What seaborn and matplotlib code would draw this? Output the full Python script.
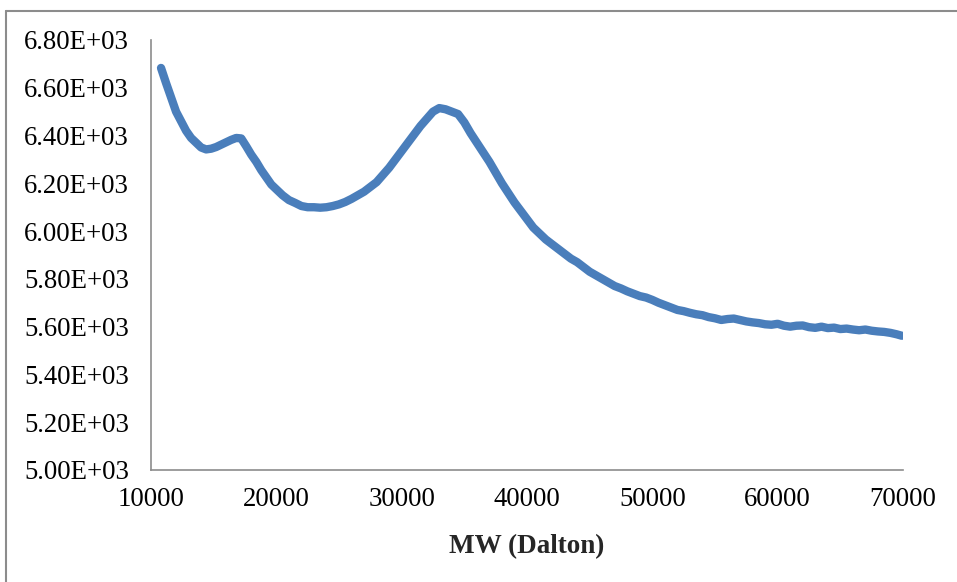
import matplotlib
matplotlib.use("Agg")
import matplotlib.pyplot as plt
from matplotlib.lines import Line2D
import seaborn as sns
import pandas as pd

# Molecular weight (Da) and signal intensity
mw = [10800, 11200, 11600, 12000, 12400, 12800, 13200, 13600, 14000, 14400,
      14800, 15200, 15600, 16000, 16400, 16800, 17200, 17600, 18000, 18400,
      18800, 19200, 19600, 20000, 20500, 21000, 21500, 22000, 22500, 23000,
      23500, 24000, 24500, 25000, 25500, 26000, 26500, 27000, 27500, 28000,
      28500, 29000, 29500, 30000, 30500, 31000, 31500, 32000, 32500, 33000,
      33500, 34000, 34500, 35000, 35500, 36000, 36500, 37000, 37500, 38000,
      38500, 39000, 39500, 40000, 40500, 41000, 41500, 42000, 42500, 43000,
      43500, 44000, 44500, 45000, 45500, 46000, 46500, 47000, 47500, 48000,
      48500, 49000, 49500, 50000, 50500, 51000, 51500, 52000, 52500, 53000,
      53500, 54000, 54500, 55000, 55500, 56000, 56500, 57000, 57500, 58000,
      58500, 59000, 59500, 60000, 60500, 61000, 61500, 62000, 62500, 63000,
      63500, 64000, 64500, 65000, 65500, 66000, 66500, 67000, 67500, 68000,
      68500, 69000, 69500, 69900]
intensity = [6683, 6620, 6560, 6500, 6460, 6420, 6390, 6370, 6350, 6342,
             6345, 6352, 6362, 6372, 6382, 6390, 6388, 6355, 6320, 6290,
             6255, 6225, 6195, 6175, 6150, 6130, 6118, 6105, 6100, 6100,
             6098, 6100, 6105, 6112, 6122, 6135, 6150, 6165, 6185, 6205,
             6235, 6265, 6300, 6335, 6370, 6405, 6440, 6470, 6500, 6515,
             6510, 6500, 6490, 6455, 6410, 6370, 6330, 6290, 6245, 6200,
             6160, 6120, 6085, 6050, 6015, 5990, 5965, 5945, 5925, 5905,
             5885, 5870, 5850, 5830, 5815, 5800, 5785, 5770, 5760, 5748,
             5738, 5728, 5722, 5712, 5700, 5690, 5680, 5670, 5665, 5658,
             5652, 5648, 5640, 5635, 5628, 5632, 5634, 5628, 5622, 5618,
             5615, 5610, 5608, 5612, 5604, 5600, 5604, 5605, 5598, 5595,
             5600, 5594, 5596, 5590, 5592, 5588, 5585, 5588, 5583, 5580,
             5578, 5574, 5568, 5562]

x_ticks = [10000, 20000, 30000, 40000, 50000, 60000, 70000]
y_ticks = [5000, 5200, 5400, 5600, 5800, 6000, 6200, 6400, 6600, 6800]
x_label = "MW (Dalton)"

df = pd.DataFrame({"mw": mw, "intensity": intensity})

sns.set_style("white")
plt.rcParams["font.family"] = ["Liberation Serif", "DejaVu Serif"]

W, H, DPI = 957, 582, 100
fig = plt.figure(figsize=(W / DPI, H / DPI), dpi=DPI)
ax = fig.add_axes([151 / W, 1 - 470 / H, (903 - 151) / W, (470 - 40) / H])

sns.lineplot(data=df, x="mw", y="intensity", ax=ax, color="#4a7ebb",
             linewidth=6, sort=False, estimator=None,
             solid_capstyle="round", solid_joinstyle="round")

ax.set_xlim(10000, 70000)
ax.set_ylim(5000, 6800)
ax.set_xticks(x_ticks)
ax.set_xticklabels([str(v) for v in x_ticks])
ax.set_yticks(y_ticks)
ax.set_yticklabels([f"{v / 1000:.2f}E+03" for v in y_ticks])

for side in ("top", "right"):
    ax.spines[side].set_visible(False)
for side in ("left", "bottom"):
    ax.spines[side].set_color("#8c8c8c")
    ax.spines[side].set_linewidth(1.2)

ax.tick_params(axis="both", direction="out", length=6, width=1.2,
               color="#8c8c8c", labelsize=19.3, labelcolor="black")
ax.tick_params(axis="y", pad=10)
ax.tick_params(axis="x", pad=6)
ax.set_ylabel("")
ax.set_xlabel(x_label, fontsize=19.5, fontweight="bold", labelpad=16)

# Frame lines along the top and left edges of the figure
fig.add_artist(Line2D([6 / W, 1.0], [1 - 11 / H, 1 - 11 / H],
                      transform=fig.transFigure, color="#8c8c8c", linewidth=1.5))
fig.add_artist(Line2D([6 / W, 6 / W], [0.0, 1 - 11 / H],
                      transform=fig.transFigure, color="#8c8c8c", linewidth=1.5))

fig.savefig("out.png", dpi=DPI, facecolor="white")
